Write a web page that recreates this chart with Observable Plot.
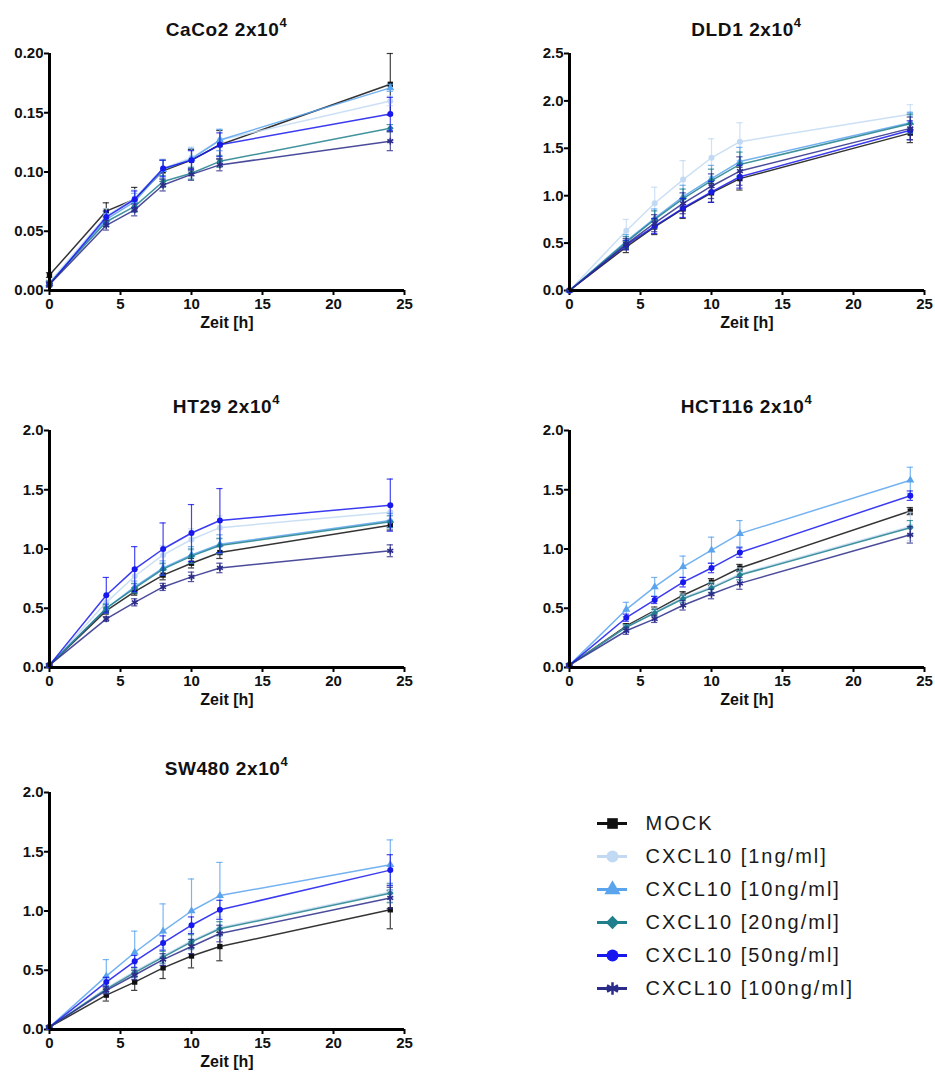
<!DOCTYPE html>
<html>
<head>
<meta charset="utf-8">
<script src="https://cdn.jsdelivr.net/npm/d3@7"></script>
<script src="https://cdn.jsdelivr.net/npm/@observablehq/plot@0.6"></script>
<style>
  html, body { margin: 0; padding: 0; background: #fff; }
  #page { position: relative; width: 935px; height: 1075px; overflow: hidden; background: #fff;
          font-family: "Liberation Sans", Arial, Helvetica, sans-serif; }
  .panel { position: absolute; }
  .title { position: absolute; width: 355px; height: 24px; line-height: 24px; text-align: center;
           font-weight: bold; font-size: 19px; letter-spacing: 0.6px; color: #111; white-space: nowrap; }
  .title sup { font-size: 13px; position: relative; top: -2px; }
  .legend text { letter-spacing: 2px; }
</style>
</head>
<body>
<div id="page"></div>
<script>
// ---------- data ----------
const hours = [0, 4, 6, 8, 10, 12, 24];
const xTicks = [0, 5, 10, 15, 20, 25];
const seriesNames = ["MOCK", "CXCL10 [1ng/ml]", "CXCL10 [10ng/ml]", "CXCL10 [20ng/ml]", "CXCL10 [50ng/ml]", "CXCL10 [100ng/ml]"];
const seriesColors = ["#111111", "#c2d9f3", "#5aa4ee", "#1f7f8c", "#1717ee", "#2b2b8a"];
const seriesSymbols = ["square", "circle", "triangle", "diamond2", "circle", "asterisk"];

// CaCo2 2x10^4 (rows follow seriesNames, columns follow hours)
const caco2Mean = [
  [0.013, 0.067, 0.077, 0.101, 0.110, 0.123, 0.174],
  [0.007, 0.063, 0.078, 0.103, 0.112, 0.127, 0.160],
  [0.006, 0.060, 0.075, 0.102, 0.111, 0.127, 0.171],
  [0.006, 0.058, 0.071, 0.092, 0.099, 0.109, 0.137],
  [0.005, 0.062, 0.077, 0.103, 0.110, 0.123, 0.149],
  [0.005, 0.055, 0.068, 0.089, 0.098, 0.106, 0.126]
];
const caco2Err = [
  [0.002, 0.007, 0.010, 0.009, 0.009, 0.012, 0.026],
  [0.002, 0.006, 0.007, 0.008, 0.009, 0.009, 0.004],
  [0.002, 0.005, 0.007, 0.008, 0.009, 0.009, 0.003],
  [0.002, 0.004, 0.005, 0.005, 0.005, 0.005, 0.003],
  [0.002, 0.005, 0.007, 0.007, 0.008, 0.010, 0.014],
  [0.002, 0.004, 0.005, 0.005, 0.005, 0.005, 0.008]
];

// DLD1 2x10^4
const dld1Mean = [
  [0.0, 0.46, 0.67, 0.86, 1.03, 1.18, 1.66],
  [0.0, 0.63, 0.92, 1.17, 1.40, 1.57, 1.86],
  [0.0, 0.52, 0.76, 0.99, 1.18, 1.36, 1.77],
  [0.0, 0.51, 0.75, 0.97, 1.16, 1.33, 1.76],
  [0.0, 0.48, 0.68, 0.87, 1.04, 1.20, 1.69],
  [0.0, 0.49, 0.71, 0.92, 1.10, 1.26, 1.71]
];
const dld1Err = [
  [0, 0.06, 0.08, 0.10, 0.10, 0.12, 0.10],
  [0, 0.12, 0.17, 0.20, 0.20, 0.20, 0.10],
  [0, 0.07, 0.10, 0.12, 0.14, 0.15, 0.11],
  [0, 0.06, 0.09, 0.10, 0.12, 0.13, 0.10],
  [0, 0.05, 0.08, 0.10, 0.11, 0.12, 0.10],
  [0, 0.06, 0.09, 0.11, 0.13, 0.15, 0.12]
];

// HT29 2x10^4
const ht29Mean = [
  [0.02, 0.48, 0.64, 0.78, 0.88, 0.97, 1.20],
  [0.02, 0.55, 0.77, 0.95, 1.08, 1.18, 1.31],
  [0.02, 0.50, 0.68, 0.84, 0.95, 1.04, 1.24],
  [0.02, 0.50, 0.67, 0.83, 0.94, 1.03, 1.23],
  [0.02, 0.61, 0.83, 1.00, 1.135, 1.24, 1.37],
  [0.02, 0.41, 0.55, 0.68, 0.765, 0.84, 0.985]
];
const ht29Err = [
  [0.01, 0.03, 0.03, 0.04, 0.04, 0.05, 0.04],
  [0.01, 0.05, 0.07, 0.08, 0.09, 0.10, 0.06],
  [0.01, 0.04, 0.05, 0.06, 0.07, 0.08, 0.06],
  [0.01, 0.03, 0.04, 0.05, 0.06, 0.06, 0.05],
  [0.01, 0.15, 0.19, 0.22, 0.24, 0.27, 0.22],
  [0.01, 0.02, 0.03, 0.03, 0.04, 0.04, 0.05]
];

// HCT116 2x10^4
const hct116Mean = [
  [0.02, 0.35, 0.48, 0.61, 0.72, 0.84, 1.32],
  [0.02, 0.34, 0.47, 0.59, 0.68, 0.79, 1.19],
  [0.02, 0.49, 0.68, 0.85, 0.99, 1.13, 1.58],
  [0.02, 0.34, 0.46, 0.58, 0.67, 0.78, 1.18],
  [0.02, 0.42, 0.57, 0.72, 0.84, 0.97, 1.45],
  [0.02, 0.31, 0.41, 0.525, 0.62, 0.71, 1.12]
];
const hct116Err = [
  [0.01, 0.02, 0.03, 0.03, 0.03, 0.03, 0.03],
  [0.01, 0.02, 0.03, 0.03, 0.04, 0.05, 0.12],
  [0.01, 0.06, 0.08, 0.09, 0.11, 0.11, 0.11],
  [0.01, 0.02, 0.03, 0.03, 0.04, 0.04, 0.06],
  [0.01, 0.03, 0.03, 0.04, 0.04, 0.04, 0.04],
  [0.01, 0.03, 0.03, 0.04, 0.04, 0.05, 0.07]
];

// SW480 2x10^4
const sw480Mean = [
  [0.02, 0.29, 0.40, 0.52, 0.62, 0.70, 1.01],
  [0.02, 0.35, 0.49, 0.62, 0.75, 0.86, 1.16],
  [0.02, 0.45, 0.65, 0.83, 1.00, 1.13, 1.39],
  [0.02, 0.34, 0.48, 0.61, 0.74, 0.85, 1.15],
  [0.02, 0.40, 0.575, 0.73, 0.88, 1.01, 1.345],
  [0.02, 0.33, 0.46, 0.59, 0.70, 0.81, 1.11]
];
const sw480Err = [
  [0.01, 0.05, 0.07, 0.09, 0.10, 0.12, 0.16],
  [0.01, 0.04, 0.06, 0.07, 0.08, 0.09, 0.08],
  [0.01, 0.14, 0.18, 0.23, 0.27, 0.28, 0.21],
  [0.01, 0.03, 0.04, 0.05, 0.06, 0.06, 0.08],
  [0.01, 0.04, 0.05, 0.06, 0.07, 0.08, 0.13],
  [0.01, 0.03, 0.04, 0.05, 0.06, 0.07, 0.09]
];

const caco2YTicks = [0, 0.05, 0.10, 0.15, 0.20];
const dld1YTicks = [0, 0.5, 1.0, 1.5, 2.0, 2.5];
const stdYTicks = [0, 0.5, 1.0, 1.5, 2.0];

// ---------- drawing ----------
const page = document.getElementById("page");
const FONT = '"Liberation Sans", Arial, Helvetica, sans-serif';

function buildRows(means, errs) {
  const rows = [];
  seriesNames.forEach((s, si) => {
    hours.forEach((t, ti) => rows.push({series: s, si, t, v: means[si][ti], e: errs[si][ti]}));
  });
  return rows;
}

function panel({left, top, title, means, errs, yTicks, fmt}) {
  const rows = buildRows(means, errs);
  const marks = [
    Plot.axisX({ticks: xTicks, tickSize: 5, tickPadding: 3, strokeWidth: 2, fontSize: 15, fontWeight: "bold", fill: "#111", label: null}),
    Plot.axisY({ticks: yTicks, tickSize: 5, tickPadding: 1, strokeWidth: 2, fontSize: 15, fontWeight: "bold", fill: "#111", tickFormat: d3.format(fmt), label: null}),
  ];
  seriesNames.forEach((s, si) => {
    const d = rows.filter(r => r.si === si);
    const c = seriesColors[si];
    marks.push(Plot.line(d, {x: "t", y: "v", stroke: c, strokeWidth: 1.5, strokeOpacity: 0.85}));
    marks.push(Plot.ruleX(d, {x: "t", y1: r => r.v - r.e, y2: r => r.v + r.e, stroke: c, strokeWidth: 1.2, strokeOpacity: 0.8}));
    marks.push(Plot.ruleY(d, {y: r => r.v + r.e, x1: r => r.t - 0.22, x2: r => r.t + 0.22, stroke: c, strokeWidth: 1.2, strokeOpacity: 0.8}));
    marks.push(Plot.ruleY(d, {y: r => r.v - r.e, x1: r => r.t - 0.22, x2: r => r.t + 0.22, stroke: c, strokeWidth: 1.2, strokeOpacity: 0.8}));
    const sym = seriesSymbols[si];
    if (sym === "asterisk") {
      marks.push(Plot.dot(d, {x: "t", y: "v", symbol: sym, r: 3.2, stroke: c, strokeWidth: 1.6}));
    } else {
      marks.push(Plot.dot(d, {x: "t", y: "v", symbol: sym, r: 3, fill: c, stroke: "none"}));
    }
  });
  marks.push(Plot.ruleX([0], {stroke: "#000", strokeWidth: 3}));
  marks.push(Plot.ruleY([0], {stroke: "#000", strokeWidth: 3}));
  marks.push(Plot.text(["Zeit [h]"], {frameAnchor: "bottom", dy: 37, fontSize: 16, fontWeight: "bold", fill: "#111", textAnchor: "middle", lineAnchor: "bottom"}));

  const chart = Plot.plot({
    width: 415, height: 300,
    marginLeft: 49, marginRight: 11, marginTop: 13, marginBottom: 50,
    style: {fontFamily: FONT, background: "transparent", overflow: "visible"},
    x: {domain: [0, 25]},
    y: {domain: [yTicks[0], yTicks[yTicks.length - 1]]},
    marks
  });
  const wrap = document.createElement("div");
  wrap.className = "panel";
  wrap.style.left = left + "px";
  wrap.style.top = top + "px";
  wrap.appendChild(chart);
  page.appendChild(wrap);

  const t = document.createElement("div");
  t.className = "title";
  t.style.left = (left + 49) + "px";
  t.style.top = (top + 13 - 40) + "px";
  t.innerHTML = title;
  page.appendChild(t);
}

panel({left: 0, top: 40, title: "CaCo2 2x10<sup>4</sup>", means: caco2Mean, errs: caco2Err, yTicks: caco2YTicks, fmt: ".2f"});
panel({left: 520, top: 40, title: "DLD1 2x10<sup>4</sup>", means: dld1Mean, errs: dld1Err, yTicks: dld1YTicks, fmt: ".1f"});
panel({left: 0, top: 417, title: "HT29 2x10<sup>4</sup>", means: ht29Mean, errs: ht29Err, yTicks: stdYTicks, fmt: ".1f"});
panel({left: 520, top: 417, title: "HCT116 2x10<sup>4</sup>", means: hct116Mean, errs: hct116Err, yTicks: stdYTicks, fmt: ".1f"});
panel({left: 0, top: 779, title: "SW480 2x10<sup>4</sup>", means: sw480Mean, errs: sw480Err, yTicks: stdYTicks, fmt: ".1f"});

// ---------- legend ----------
{
  const marks = [];
  seriesNames.forEach((s, si) => {
    const c = seriesColors[si];
    marks.push(Plot.ruleY([s], {y: d => d, x1: () => 17, x2: () => 47, stroke: c, strokeWidth: 3}));
    if (seriesSymbols[si] === "asterisk") {
      marks.push(Plot.dot([s], {y: d => d, x: () => 32, symbol: "asterisk", r: 6, stroke: c, strokeWidth: 2.5}));
    } else {
      marks.push(Plot.dot([s], {y: d => d, x: () => 32, symbol: seriesSymbols[si], r: 6, fill: c, stroke: "none"}));
    }
  });
  marks.push(Plot.text(seriesNames, {y: d => d, x: () => 65, text: d => d, textAnchor: "start", fontSize: 20, fill: "#1a1a1a"}));
  const legend = Plot.plot({
    width: 300, height: 210,
    marginLeft: 0, marginRight: 0, marginTop: 0, marginBottom: 0,
    style: {fontFamily: FONT, background: "transparent", overflow: "visible"},
    x: {type: "linear", domain: [0, 300], range: [0, 300], axis: null},
    y: {type: "point", domain: seriesNames, range: [22, 188], padding: 0, axis: null},
    marks
  });
  const wrap = document.createElement("div");
  wrap.className = "panel legend";
  wrap.style.left = "580px";
  wrap.style.top = "800px";
  wrap.appendChild(legend);
  page.appendChild(wrap);
}
</script>
</body>
</html>
